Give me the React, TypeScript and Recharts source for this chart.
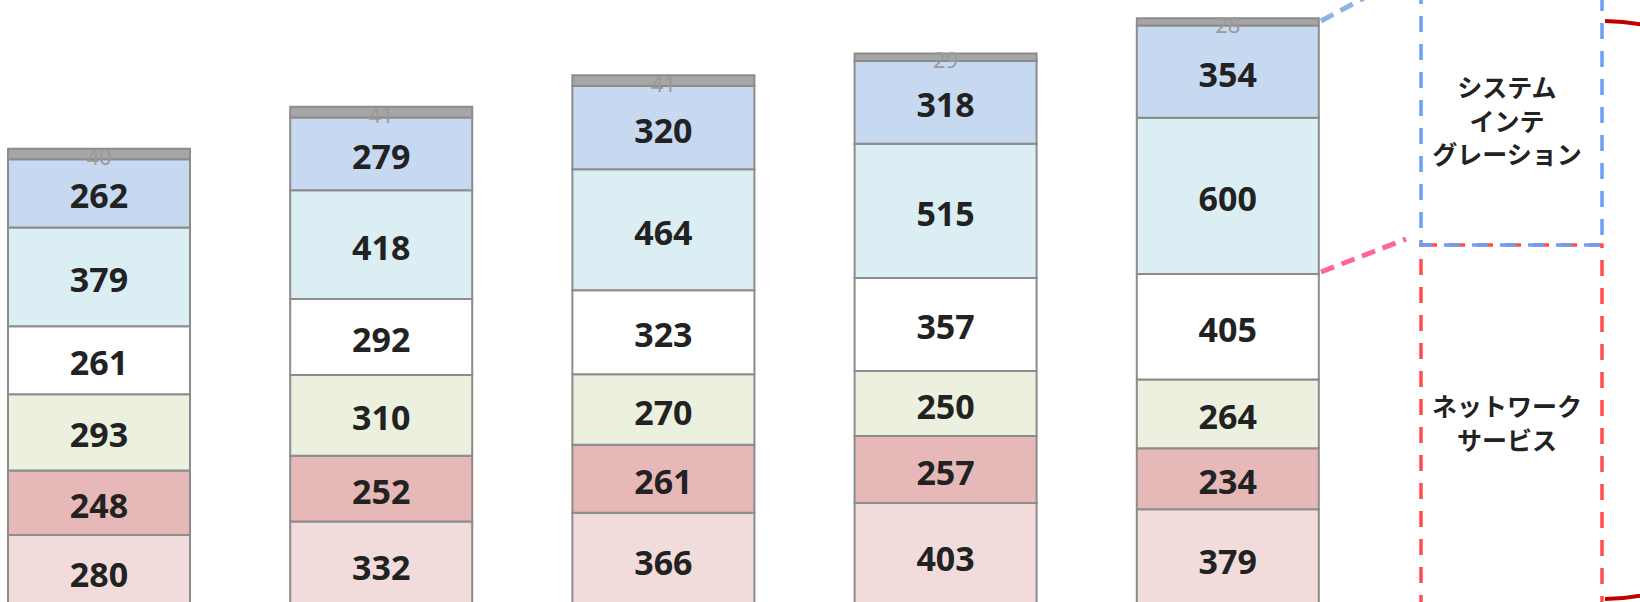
import React from "react";
import { BarChart, Bar, XAxis, YAxis, LabelList } from "recharts";

const periods = ["P1", "P2", "P3", "P4", "P5"];
// bottom to top
const seg1 = [280, 332, 366, 403, 379];
const seg2 = [248, 252, 261, 257, 234];
const seg3 = [293, 310, 270, 250, 264];
const seg4 = [261, 292, 323, 357, 405];
const seg5 = [379, 418, 464, 515, 600];
const seg6 = [262, 279, 320, 318, 354];
const seg7 = [40, 41, 41, 29, 28];

const segKeys = ["s1", "s2", "s3", "s4", "s5", "s6"];
const segColors = ["#f2dcdb", "#e6b9b8", "#ebf1de", "#ffffff", "#dbeef4", "#c6d9f1"];

const data = periods.map((p, i) => ({
  name: p,
  s1: seg1[i],
  s2: seg2[i],
  s3: seg3[i],
  s4: seg4[i],
  s5: seg5[i],
  s6: seg6[i],
  s7: seg7[i],
}));

const labelFont = "'Noto Sans', 'Open Sans', sans-serif";
const jpFont = "'Noto Sans CJK JP', 'Noto Sans', sans-serif";

function TopLabel(props: any) {
  const { x, y, width, height, value } = props;
  return (
    <text
      x={Number(x) + Number(width) / 2}
      y={Number(y) + Number(height) / 2 + 2}
      textAnchor="middle"
      dominantBaseline="central"
      fill="#9a9a9a"
      fontSize={22}
      fontFamily={labelFont}
    >
      {value}
    </text>
  );
}

function MidLabel(props: any) {
  const { x, y, width, height, value } = props;
  return (
    <text
      x={Number(x) + Number(width) / 2}
      y={Number(y) + Number(height) / 2 + 2}
      textAnchor="middle"
      dominantBaseline="central"
      fill="#222"
      fontSize={34}
      fontWeight={700}
      fontFamily={labelFont}
    >
      {value}
    </text>
  );
}

export default function App() {
  return (
    <div
      style={{
        position: "absolute",
        left: 0,
        top: 0,
        width: 1640,
        height: 602,
        overflow: "hidden",
        background: "#fff",
      }}
    >
      <div style={{ position: "absolute", left: -42, top: 0 }}>
        <BarChart
          width={1411}
          height={608}
          data={data}
          margin={{ top: 0, right: 0, bottom: 0, left: 0 }}
        >
          <XAxis dataKey="name" hide />
          <YAxis hide domain={[0, 2334]} allowDataOverflow />
          {segKeys.map((k, idx) => (
            <Bar
              key={k}
              dataKey={k}
              stackId="a"
              fill={segColors[idx]}
              stroke="#8c8c8c"
              strokeWidth={2}
              barSize={182}
              isAnimationActive={false}
            >
              <LabelList dataKey={k} content={MidLabel} />
            </Bar>
          ))}
          <Bar
            dataKey="s7"
            stackId="a"
            fill="#a6a6a6"
            stroke="#8c8c8c"
            strokeWidth={2}
            barSize={182}
            isAnimationActive={false}
          >
            <LabelList dataKey="s7" content={TopLabel} />
          </Bar>
        </BarChart>
      </div>
      <svg
        width={1640}
        height={602}
        style={{ position: "absolute", left: 0, top: 0, pointerEvents: "none" }}
      >
        <line x1={1321} y1={21} x2={1364} y2={-2} stroke="#8db4e2" strokeWidth={5} strokeDasharray="14 8" />
        <line x1={1321} y1={272} x2={1406} y2={239} stroke="#ff6699" strokeWidth={5} strokeDasharray="14 8" />
        <rect x={1421} y={245} width={181} height={380} fill="none" stroke="#ff4d4d" strokeWidth={3.5} strokeDasharray="16 12" />
        <rect x={1421} y={-12} width={181} height={257} fill="none" stroke="#6d9ef5" strokeWidth={3.5} strokeDasharray="16 12" strokeDashoffset={8} />
        <path d="M1605 21 C1900 25 1900 595 1605 599" fill="none" stroke="#c00000" strokeWidth={4} />
        <g fontFamily={jpFont} fontSize={25} fontWeight={700} fill="#222" textAnchor="middle">
          <text x={1507} y={86} dominantBaseline="central">システム</text>
          <text x={1507} y={120} dominantBaseline="central">インテ</text>
          <text x={1507} y={153} dominantBaseline="central">グレーション</text>
          <text x={1507} y={405} dominantBaseline="central">ネットワーク</text>
          <text x={1507} y={439} dominantBaseline="central">サービス</text>
        </g>
      </svg>
    </div>
  );
}
